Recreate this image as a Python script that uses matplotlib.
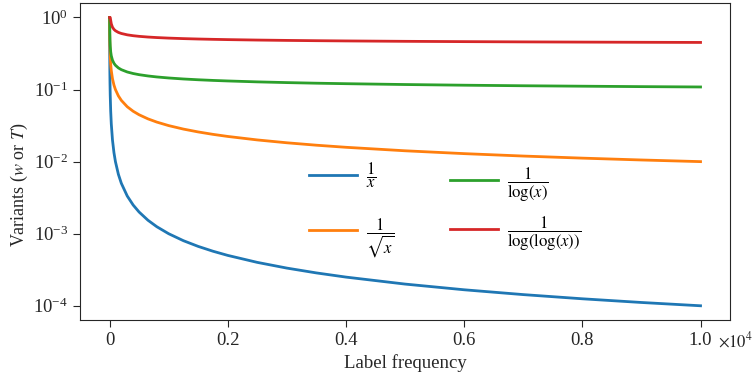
import matplotlib
matplotlib.use("Agg")
import matplotlib.pyplot as plt
from matplotlib.ticker import NullLocator

plt.rcParams['font.family'] = ['Liberation Serif', 'DejaVu Serif']
plt.rcParams['mathtext.fontset'] = 'stix'

# label frequency (x) and the four weighting variants
freq = [1, 2, 3, 5, 8, 12, 20, 30, 50, 75, 100, 150, 200, 300, 400, 500, 650,
        800, 1000, 1250, 1500, 1750, 2000, 2500, 3000, 3500, 4000, 5000, 6000,
        7000, 8000, 9000, 10000]

inv_x = [1, 0.5, 0.3333, 0.2, 0.125, 0.08333, 0.05, 0.03333, 0.02, 0.01333,
         0.01, 0.006667, 0.005, 0.003333, 0.0025, 0.002, 0.001538, 0.00125,
         0.001, 0.0008, 0.0006667, 0.0005714, 0.0005, 0.0004, 0.0003333,
         0.0002857, 0.00025, 0.0002, 0.0001667, 0.0001429, 0.000125,
         0.0001111, 0.0001]

inv_sqrt = [1, 0.7071, 0.5774, 0.4472, 0.3536, 0.2887, 0.2236, 0.1826, 0.1414,
            0.1155, 0.1, 0.08165, 0.07071, 0.05774, 0.05, 0.04472, 0.03922,
            0.03536, 0.03162, 0.02828, 0.02582, 0.0239, 0.02236, 0.02, 0.01826,
            0.0169, 0.01581, 0.01414, 0.01291, 0.01195, 0.01118, 0.01054, 0.01]

inv_log = [1, 1, 0.9102, 0.6213, 0.4809, 0.4024, 0.3338, 0.294, 0.2556, 0.2316,
           0.2171, 0.1996, 0.1887, 0.1753, 0.1669, 0.1609, 0.1544, 0.1496,
           0.1448, 0.1402, 0.1367, 0.1339, 0.1316, 0.1278, 0.1249, 0.1225,
           0.1206, 0.1174, 0.1149, 0.1129, 0.1113, 0.1098, 0.1086]

inv_loglog = [1, 1, 1, 1, 1, 1, 0.9114, 0.8169, 0.7331, 0.6837, 0.6548, 0.6205,
              0.5998, 0.5743, 0.5586, 0.5474, 0.5353, 0.5264, 0.5174, 0.509,
              0.5026, 0.4974, 0.493, 0.4861, 0.4807, 0.4763, 0.4727, 0.4668,
              0.4623, 0.4585, 0.4554, 0.4527, 0.4504]

labels = [r'$\dfrac{1}{x}$', r'$\dfrac{1}{\sqrt{x}}$',
          r'$\dfrac{1}{\log(x)}$', r'$\dfrac{1}{\log(\log(x))}$']
colors = ['#1f77b4', '#ff7f0e', '#2ca02c', '#d62728']

xticks = [0, 2000, 4000, 6000, 8000, 10000]
xtick_labels = ['0', '0.2', '0.4', '0.6', '0.8', '1.0']

fig = plt.figure(figsize=(7.55, 3.83), dpi=100)
ax = fig.add_axes([0.106, 0.164, 0.861, 0.828])

lines = []
for ys, lab, c in zip([inv_x, inv_sqrt, inv_log, inv_loglog], labels, colors):
    ln, = ax.plot(freq, ys, color=c, lw=2, label=lab)
    lines.append(ln)

ax.set_yscale('log')
ax.yaxis.set_minor_locator(NullLocator())
ax.set_xticks(xticks)
ax.set_xticklabels(xtick_labels)
ax.tick_params(direction='out', length=5, labelsize=13.5, colors='#262626')
for s in ax.spines.values():
    s.set_color('#262626')

fig.text(0.951, 0.11, r'$\times10^{4}$', fontsize=12, color='#262626',
         ha='left', va='center')

ax.set_xlabel('Label frequency', fontsize=13.5, color='#262626')
ax.set_ylabel(r'Variants ($w$ or $T$)', fontsize=13, color='#262626')
ax.yaxis.set_label_coords(-0.077, 0.426)

# two legend columns, each its own legend so row spacing matches
leg_kw = dict(frameon=False, fontsize=12, handlelength=2.9, handletextpad=0.5,
              borderpad=0, borderaxespad=0, loc='center left')
leg1 = ax.legend(lines[:2], labels[:2], bbox_to_anchor=(0.352, 0.347),
                 labelspacing=1.6, **leg_kw)
ax.add_artist(leg1)
ax.legend(lines[2:], labels[2:], bbox_to_anchor=(0.569, 0.348),
          labelspacing=0.65, **leg_kw)

fig.savefig('out.png', dpi=100)
